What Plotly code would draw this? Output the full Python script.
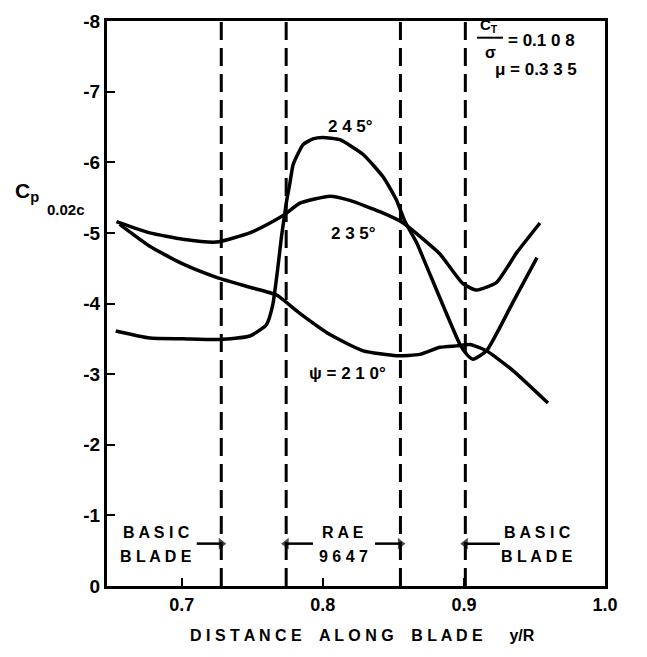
import plotly.graph_objects as go

# ---- data ----
x_245 = [0.6532, 0.6773, 0.7007, 0.7270, 0.7482, 0.7600, 0.7645, 0.7680, 0.7707, 0.7743,
         0.7766, 0.7790, 0.7860, 0.7930, 0.8000, 0.8120, 0.8286, 0.8428, 0.8523, 0.8582,
         0.8665, 0.8735, 0.8972, 0.9020, 0.9064, 0.9160, 0.9348, 0.9518]
y_245 = [-3.61, -3.51, -3.50, -3.49, -3.54, -3.70, -3.98, -4.49, -4.95, -5.45,
         -5.70, -5.97, -6.25, -6.33, -6.35, -6.32, -6.11, -5.79, -5.46, -5.16,
         -4.86, -4.53, -3.42, -3.28, -3.21, -3.33, -4.02, -4.65]

x_235 = [0.6537, 0.6773, 0.7007, 0.7246, 0.7482, 0.7645, 0.7743, 0.7837, 0.8050, 0.8191,
         0.8404, 0.8570, 0.8688, 0.8830, 0.8993, 0.9090, 0.9232, 0.9374, 0.9539]
y_235 = [-5.16, -5.00, -4.91, -4.87, -5.00, -5.16, -5.28, -5.42, -5.52, -5.46,
         -5.30, -5.14, -4.95, -4.70, -4.28, -4.19, -4.30, -4.72, -5.14]

x_210 = [0.6560, 0.6773, 0.7007, 0.7246, 0.7482, 0.7672, 0.7837, 0.8050, 0.8286, 0.8523,
         0.8688, 0.8830, 0.8948, 0.9043, 0.9160, 0.9348, 0.9596]
y_210 = [-5.12, -4.81, -4.56, -4.37, -4.23, -4.12, -3.86, -3.56, -3.33, -3.26,
         -3.28, -3.38, -3.40, -3.42, -3.33, -3.05, -2.59]

dividers = [0.728, 0.774, 0.855, 0.901]
arrow_tails = [0.7106, 0.7930, 0.8370, 0.9255]
ARROW_Y = -0.60

x_ticks = [0.7, 0.8, 0.9, 1.0]
x_ticklabels = ["0.7", "0.8", "0.9", "1.0"]
y_ticks = [0, -1, -2, -3, -4, -5, -6, -7, -8]
y_ticklabels = ["0", "-1", "-2", "-3", "-4", "-5", "-6", "-7", "-8"]

X_RANGE = [0.647, 1.0]
Y_RANGE = [0, -8]

FONT = "Liberation Sans"
W, H = 647, 657
ML, MR, MT, MB = 107, 42, 11, 71

fig = go.Figure()

for d in dividers:
    fig.add_trace(go.Scatter(x=[d, d], y=[Y_RANGE[0], Y_RANGE[1]], mode="lines",
                             line=dict(color="black", width=3, dash="18px,8px"),
                             showlegend=False, hoverinfo="skip"))

for xs, ys in [(x_245, y_245), (x_235, y_235), (x_210, y_210)]:
    fig.add_trace(go.Scatter(x=xs, y=ys, mode="lines",
                             line=dict(color="black", width=3.5, shape="spline", smoothing=0.5),
                             showlegend=False, hoverinfo="skip"))

# arrows pointing at the divider lines
for tip, tail in zip(dividers, arrow_tails):
    fig.add_trace(go.Scatter(x=[tail, tip], y=[ARROW_Y, ARROW_Y], mode="lines+markers",
                             line=dict(color="black", width=2.5),
                             marker=dict(symbol=["circle", "triangle-right" if tip > tail else "triangle-left"],
                                         size=[0, 10], color="black",
                                         line=dict(width=0)),
                             showlegend=False, hoverinfo="skip"))

def px(xp, yp):
    return (xp - ML) / (W - ML - MR), (H - MB - yp) / (H - MT - MB)

def txt(xp, yp, text, size=15, xanchor="center"):
    x, y = px(xp, yp)
    fig.add_annotation(x=x, y=y, xref="paper", yref="paper", text=text, showarrow=False,
                       xanchor=xanchor, yanchor="middle",
                       font=dict(family=FONT, size=size, color="black", weight="bold"))

# curve labels
txt(350, 118, "2 4 5°", 17)
txt(353, 227, "2 3 5°", 17)
txt(347, 370, "ψ = 2 1 0°", 17)

# top-right parameters
txt(489, 16, "C<sub>T</sub>", 15)
txt(490, 43, "σ", 16)
x0, y0 = px(477, 28)
x1, _ = px(503, 28)
fig.add_shape(type="line", xref="paper", yref="paper", x0=x0, x1=x1, y0=y0, y1=y0,
              line=dict(color="black", width=2))
txt(506, 31, "= 0.1 0 8", 17, "left")
txt(493, 60, "μ = 0.3 3 5", 17, "left")

# y-axis label
txt(27, 185, "C<sub>p</sub>", 21)
txt(66, 203, "0.02c", 15)

# bottom region labels
txt(156, 532, "B A S I C", 16)
txt(156, 556, "B L A D E", 16)
txt(343, 532, "R A E", 16)
txt(343, 556, "9 6 4 7", 16)
txt(537, 532, "B A S I C", 16)
txt(537, 556, "B L A D E", 16)

# x-axis title
txt(362, 636, "D I S T A N C E    A L O N G    B L A D E      y/R", 16)

fig.update_xaxes(range=X_RANGE, tickvals=x_ticks, ticktext=x_ticklabels,
                 ticks="inside", ticklen=8, tickwidth=2, tickcolor="black",
                 showline=True, linecolor="black", linewidth=3, mirror=True,
                 showgrid=False, zeroline=False,
                 tickfont=dict(family=FONT, size=18, color="black", weight="bold"))
fig.update_yaxes(range=Y_RANGE, tickvals=y_ticks, ticktext=y_ticklabels,
                 ticks="inside", ticklen=8, tickwidth=2, tickcolor="black",
                 showline=True, linecolor="black", linewidth=3, mirror=True,
                 showgrid=False, zeroline=False,
                 tickfont=dict(family=FONT, size=19, color="black", weight="bold"))

fig.update_layout(width=W, height=H, margin=dict(l=ML, r=MR, t=MT, b=MB),
                  plot_bgcolor="white", paper_bgcolor="white")

fig.write_html("out.html")
